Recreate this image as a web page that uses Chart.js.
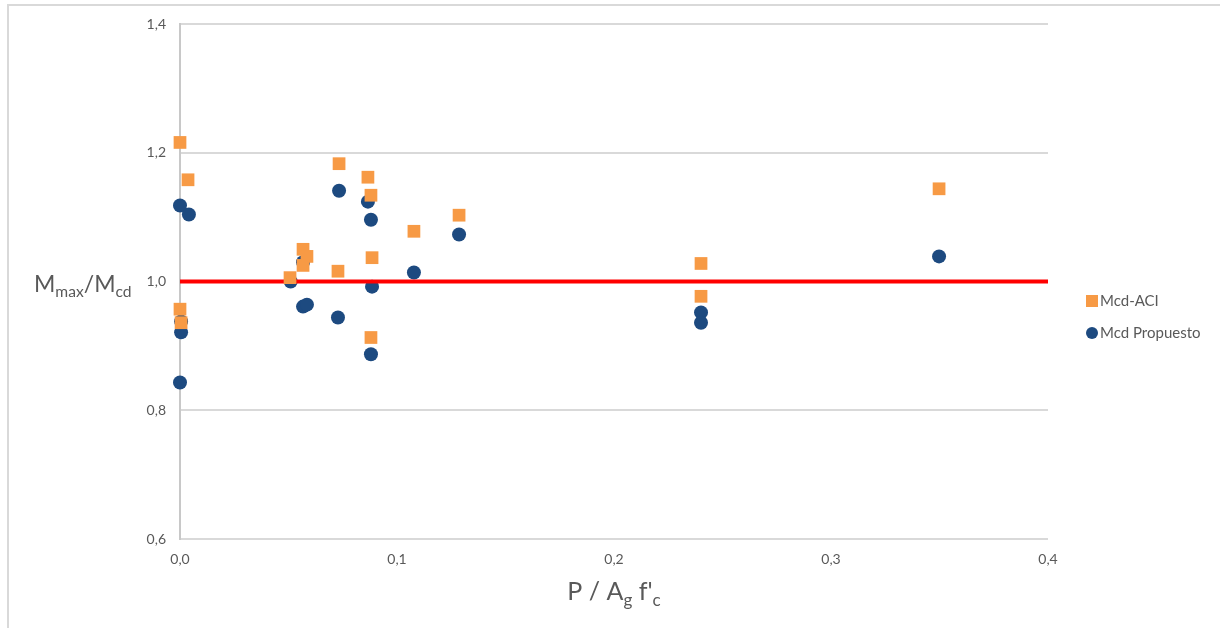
<!DOCTYPE html>
<html>
<head>
<meta charset="utf-8">
<script src="https://cdn.jsdelivr.net/npm/chart.js@4/dist/chart.umd.min.js"></script>
<style>
  html, body { margin: 0; padding: 0; background: #fff; }
</style>
</head>
<body>
<canvas id="graficoMomentos" width="1220" height="628"></canvas>
<script>
// datos
const aciX = [0, 0.0037, 0, 0.0005, 0.0507, 0.0567, 0.0585, 0.0567, 0.0728, 0.0733, 0.0866, 0.088, 0.0885, 0.088, 0.1078, 0.1286, 0.2401, 0.2401, 0.3498];
const aciY = [1.216, 1.158, 0.957, 0.936, 1.006, 1.050, 1.039, 1.025, 1.016, 1.183, 1.162, 1.134, 1.037, 0.913, 1.078, 1.103, 1.028, 0.977, 1.144];

const propX = [0, 0.0041, 0.0005, 0.0005, 0, 0.051, 0.0567, 0.0567, 0.0585, 0.0728, 0.0733, 0.0866, 0.088, 0.0885, 0.088, 0.1078, 0.1286, 0.2401, 0.2401, 0.3498];
const propY = [1.118, 1.104, 0.938, 0.921, 0.843, 1.000, 1.030, 0.961, 0.964, 0.944, 1.141, 1.124, 1.096, 0.992, 0.887, 1.014, 1.073, 0.952, 0.936, 1.039];

const limiteX = [0, 0.4];
const limiteY = [1, 1];

const rangoX = [0, 0.4];
const rangoY = [0.6, 1.4];

const aPuntos = (xs, ys) => xs.map((x, i) => ({ x: x, y: ys[i] }));
const coma = v => v.toFixed(1).replace(".", ",");

const FUENTE = "Lato, 'Open Sans', sans-serif";
const GRIS = "#595959";

// texto con subíndices
function textoSub(ctx, partes, x, y, tam, centrar) {
  let ancho = 0;
  partes.forEach(p => {
    ctx.font = (p.sub ? tam * 0.68 : tam) + "px " + FUENTE;
    ancho += ctx.measureText(p.t).width;
  });
  let cx = centrar ? x - ancho / 2 : x;
  partes.forEach(p => {
    ctx.font = (p.sub ? tam * 0.68 : tam) + "px " + FUENTE;
    ctx.fillText(p.t, cx, p.sub ? y + tam * 0.22 : y);
    cx += ctx.measureText(p.t).width;
  });
}

const marcoYTitulos = {
  id: "marcoYTitulos",
  beforeDraw(chart) {
    const ctx = chart.ctx;
    ctx.save();
    ctx.strokeStyle = "#d9d9d9";
    ctx.lineWidth = 2;
    ctx.beginPath();
    ctx.moveTo(8, 628);
    ctx.lineTo(8, 5);
    ctx.lineTo(1220, 5);
    ctx.stroke();
    ctx.restore();
  },
  afterDraw(chart) {
    const ctx = chart.ctx;
    const area = chart.chartArea;
    ctx.save();
    ctx.fillStyle = GRIS;
    ctx.textBaseline = "alphabetic";
    ctx.textAlign = "left";
    const yUno = chart.scales.y.getPixelForValue(1);
    textoSub(ctx, [{ t: "M" }, { t: "max", sub: true }, { t: "/M" }, { t: "cd", sub: true }], 34, yUno + 10, 23, false);
    textoSub(ctx, [{ t: "P / A" }, { t: "g", sub: true }, { t: " f'" }, { t: "c", sub: true }], (area.left + area.right) / 2, 600, 25, true);

    // leyenda (sin la línea roja)
    const series = chart.data.datasets.filter(d => d.label !== "limite");
    ctx.textBaseline = "middle";
    ctx.font = "15px " + FUENTE;
    series.forEach((d, i) => {
      const yl = 301 + i * 32;
      ctx.fillStyle = d.backgroundColor;
      Chart.helpers.drawPoint(ctx, {
        pointStyle: d.pointStyle,
        radius: d.pointStyle === "rect" ? 8.5 : 6,
        rotation: 0,
        borderWidth: 0
      }, 1092, yl);
      ctx.fillStyle = GRIS;
      ctx.fillText(d.label, 1100, yl);
    });
    ctx.restore();
  }
};

new Chart(document.getElementById("graficoMomentos"), {
  type: "scatter",
  data: {
    datasets: [
      {
        label: "Mcd-ACI",
        data: aPuntos(aciX, aciY),
        pointStyle: "rect",
        pointRadius: 9,
        pointHoverRadius: 9,
        backgroundColor: "#f79a45",
        borderColor: "#f79a45",
        borderWidth: 0,
        clip: false
      },
      {
        label: "limite",
        type: "line",
        data: aPuntos(limiteX, limiteY),
        borderColor: "#ff0000",
        borderWidth: 4,
        pointRadius: 0,
        fill: false
      },
      {
        label: "Mcd Propuesto",
        data: aPuntos(propX, propY),
        pointStyle: "circle",
        pointRadius: 7,
        pointHoverRadius: 7,
        backgroundColor: "#1d4a80",
        borderColor: "#1d4a80",
        borderWidth: 0,
        clip: false
      }
    ]
  },
  options: {
    responsive: false,
    animation: false,
    layout: { padding: { top: 24, right: 172, bottom: 0, left: 0 } },
    plugins: {
      tooltip: { enabled: false },
      legend: { display: false }
    },
    scales: {
      x: {
        type: "linear",
        min: rangoX[0],
        max: rangoX[1],
        afterFit: s => { s.height = 89; },
        ticks: { stepSize: 0.1, callback: v => coma(v), color: GRIS, font: { family: FUENTE, size: 14 }, padding: 4 },
        grid: { display: false },
        border: { display: false }
      },
      y: {
        min: rangoY[0],
        max: rangoY[1],
        afterFit: s => { s.width = 180; },
        ticks: { stepSize: 0.2, callback: v => coma(v), color: GRIS, font: { family: FUENTE, size: 14 }, padding: 14 },
        grid: { color: "#d9d9d9", lineWidth: 2, drawTicks: false },
        border: { display: true, color: "#c8c8c8", width: 2 }
      }
    }
  },
  plugins: [marcoYTitulos]
});
</script>
</body>
</html>
